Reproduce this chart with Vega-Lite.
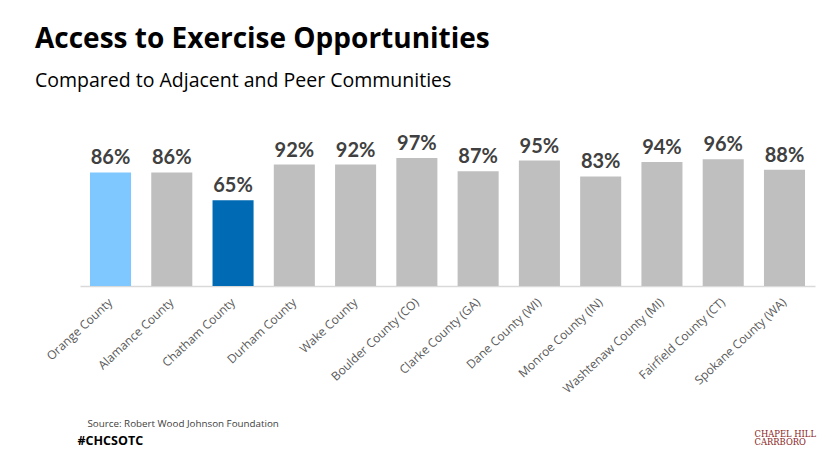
{
  "$schema": "https://vega.github.io/schema/vega-lite/v6.json",
  "width": 735,
  "height": 132,
  "autosize": {"type": "none"},
  "padding": {"left": 80, "top": 154, "right": 21, "bottom": 178},
  "background": "white",
  "config": {"view": {"stroke": null}},
  "title": {
    "text": "Access to Exercise Opportunities",
    "subtitle": "Compared to Adjacent and Peer Communities",
    "anchor": "start",
    "frame": "group",
    "dx": -45,
    "offset": 43,
    "font": "Open Sans",
    "fontSize": 28,
    "fontWeight": "bold",
    "color": "#000000",
    "subtitleFont": "Open Sans",
    "subtitleFontSize": 19.5,
    "subtitleColor": "#000000",
    "subtitlePadding": 18
  },
  "data": {
    "values": [
      {"county": "Orange County", "value": 0.86, "highlight": "Orange"},
      {"county": "Alamance County", "value": 0.86, "highlight": "Other"},
      {"county": "Chatham County", "value": 0.65, "highlight": "Chatham"},
      {"county": "Durham County", "value": 0.92, "highlight": "Other"},
      {"county": "Wake County", "value": 0.92, "highlight": "Other"},
      {"county": "Boulder County (CO)", "value": 0.97, "highlight": "Other"},
      {"county": "Clarke County (GA)", "value": 0.87, "highlight": "Other"},
      {"county": "Dane County (WI)", "value": 0.95, "highlight": "Other"},
      {"county": "Monroe County (IN)", "value": 0.83, "highlight": "Other"},
      {"county": "Washtenaw County (MI)", "value": 0.94, "highlight": "Other"},
      {"county": "Fairfield County (CT)", "value": 0.96, "highlight": "Other"},
      {"county": "Spokane County (WA)", "value": 0.88, "highlight": "Other"}
    ]
  },
  "encoding": {
    "x": {
      "field": "county",
      "type": "nominal",
      "sort": null,
      "scale": {"paddingInner": 0.33, "paddingOuter": 0.163},
      "axis": {
        "domain": true,
        "domainColor": "#D9D9D9",
        "domainWidth": 1.5,
        "ticks": false,
        "labelAngle": -43,
        "labelAlign": "right",
        "labelBaseline": "middle",
        "labelPadding": 14,
        "labelFont": "Open Sans",
        "labelFontSize": 12,
        "labelColor": "#595959",
        "labelOverlap": false,
        "title": "Source: Robert Wood Johnson Foundation",
        "titleAnchor": "start",
        "titleAlign": "left",
        "titleBaseline": "alphabetic",
        "titleX": 7,
        "titleY": 140,
        "titleFont": "Open Sans",
        "titleFontSize": 9.8,
        "titleFontWeight": "normal",
        "titleColor": "#404040"
      }
    }
  },
  "layer": [
    {
      "mark": {"type": "bar"},
      "encoding": {
        "y": {
          "field": "value",
          "type": "quantitative",
          "scale": {"domain": [0, 1]},
          "axis": {
            "domain": false,
            "ticks": false,
            "labels": false,
            "grid": false,
            "title": "#CHCSOTC",
            "titleAngle": 0,
            "titleAlign": "left",
            "titleBaseline": "alphabetic",
            "titleX": -3,
            "titleY": 290,
            "titleFont": "Open Sans",
            "titleFontSize": 12.5,
            "titleFontWeight": "bold",
            "titleColor": "#000000"
          }
        },
        "color": {
          "field": "highlight",
          "type": "nominal",
          "scale": {"domain": ["Orange", "Chatham", "Other"], "range": ["#7FC8FF", "#006AB4", "#BFBFBF"]},
          "legend": null
        }
      }
    },
    {
      "mark": {"type": "text", "dy": -8, "baseline": "alphabetic", "font": "Lato", "fontSize": 20, "fontWeight": "bold", "color": "#404040"},
      "encoding": {
        "y": {
          "field": "value",
          "type": "quantitative",
          "scale": {"domain": [0, 1]},
          "axis": {
            "orient": "right",
            "domain": false,
            "ticks": false,
            "labels": false,
            "grid": false,
            "title": ["CHAPEL HILL", "CARRBORO"],
            "titleAngle": 0,
            "titleAlign": "left",
            "titleBaseline": "alphabetic",
            "titleX": -61,
            "titleY": 282,
            "titleLineHeight": 8.5,
            "titleFont": "DejaVu Serif",
            "titleFontSize": 8.4,
            "titleFontWeight": "normal",
            "titleColor": "#8B2323"
          }
        },
        "text": {"field": "value", "type": "quantitative", "format": ".0%"}
      }
    }
  ],
  "resolve": {"scale": {"y": "independent"}}
}
